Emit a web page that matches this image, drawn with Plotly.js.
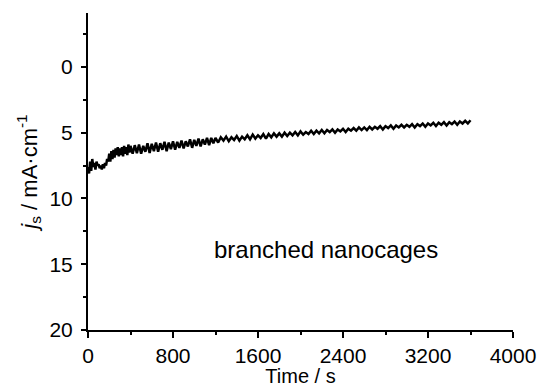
<!DOCTYPE html>
<html>
<head>
<meta charset="utf-8">
<script src="https://cdn.plot.ly/plotly-3.0.1.min.js"></script>
<style>html,body{margin:0;padding:0;background:#fff;}#chart{width:544px;height:387px;}</style>
</head>
<body>
<div id="chart"></div>
<script>
const timeS = [0,10,20,30,40,50,60,70,80,90,100,110,120,130,140,150,160,170,180,190,200,210,220,230,240,250,260,270,280,290,300,310,320,330,340,350,360,370,380,390,
400,420,440,460,480,500,520,540,560,580,600,620,640,660,680,700,720,740,760,780,800,820,840,860,880,900,920,940,960,980,1000,1020,1040,1060,1080,1100,1120,1140,1160,1180,
1200,1225,1250,1275,1300,1325,1350,1375,1400,1425,1450,1475,1500,1525,1550,1575,1600,1625,1650,1675,1700,1725,1750,1775,1800,1825,1850,1875,1900,1925,1950,1975,2000,2025,2050,2075,2100,2125,2150,2175,2200,2225,2250,2275,2300,2325,2350,2375,2400,2425,2450,2475,2500,2525,2550,2575,2600,2625,2650,2675,2700,2725,2750,2775,2800,2825,2850,2875,2900,2925,2950,2975,3000,3025,3050,3075,3100,3125,3150,3175,3200,3225,3250,3275,3300,3325,3350,3375,3400,3425,3450,3475,3500,3525,3550,3575,3600];
const currentJs = [7.6,8.1,7.2,7.9,7.0,7.6,7.3,7.8,7.2,7.5,7.4,7.7,7.5,7.8,7.4,7.7,7.3,7.5,7.0,7.2,
6.6,7.2,6.4,7.0,6.3,6.9,6.2,6.7,6.1,6.8,6.2,6.7,6.1,6.8,6.0,6.6,6.1,6.7,5.9,6.5,
6.0,6.6,5.95,6.55,5.9,6.6,6.0,6.45,5.8,6.55,5.85,6.4,5.75,6.45,5.8,6.3,5.7,6.4,5.75,6.25,5.65,6.3,5.7,6.15,5.6,6.2,5.65,6.05,5.5,6.15,5.55,6.0,5.45,6.05,5.5,5.9,5.4,5.95,5.4,5.8,
5.4,5.75,5.35,5.6,5.3,5.65,5.35,5.55,5.25,5.6,5.3,5.5,5.2,5.5,5.15,5.45,5.2,5.4,5.1,5.45,5.1,5.35,5.05,5.3,5.05,5.3,5.0,5.25,5.0,5.2,4.95,5.2,4.9,5.15,4.95,5.1,4.85,5.1,4.85,5.05,4.8,5.05,4.8,4.95,4.75,5.0,4.75,4.9,4.7,4.95,4.7,4.85,4.65,4.85,4.6,4.8,4.6,4.8,4.55,4.75,4.55,4.7,4.5,4.75,4.5,4.65,4.45,4.7,4.45,4.6,4.4,4.6,4.4,4.55,4.35,4.6,4.35,4.5,4.3,4.55,4.3,4.45,4.25,4.5,4.25,4.4,4.2,4.45,4.2,4.35,4.15,4.4,4.15,4.3,4.1,4.3,4.05];
const xTicks = [0,800,1600,2400,3200,4000];
const yTicks = [0,5,10,15,20];
const label = "branched nanocages";

const fam = "Liberation Sans, Arial, sans-serif";
const tickFont = {family: fam, color: "#000", size: 21};
const xTitleFont = {family: fam, color: "#000", size: 20};
const yTitleFont = {family: fam, color: "#000", size: 22};

Plotly.newPlot("chart", [{
  x: timeS, y: currentJs, type: "scatter", mode: "lines",
  line: {color: "#000", width: 2.5}, hoverinfo: "skip"
}], {
  width: 544, height: 387,
  margin: {l: 88, r: 31, t: 13, b: 57},
  paper_bgcolor: "#fff", plot_bgcolor: "#fff",
  showlegend: false,
  font: tickFont,
  xaxis: {
    range: [0, 4000], tickvals: xTicks, ticktext: xTicks.map(String),
    showline: true, linewidth: 2, linecolor: "#000",
    ticks: "outside", ticklen: 6, tickwidth: 2, tickcolor: "#000",
    minor: {dtick: 400, tick0: 0, ticks: "outside", ticklen: 3, tickwidth: 2, tickcolor: "#000"},
    showgrid: false, zeroline: false,
    tickfont: tickFont,
    title: {text: "Time / s", font: xTitleFont, standoff: 2}
  },
  yaxis: {
    range: [20, -4.1], tickvals: yTicks, ticktext: yTicks.map(String),
    showline: true, linewidth: 2, linecolor: "#000",
    ticks: "outside", ticklen: 5, tickwidth: 2, tickcolor: "#000",
    minor: {dtick: 2.5, tick0: 0, ticks: "outside", ticklen: 3, tickwidth: 2, tickcolor: "#000"},
    showgrid: false, zeroline: false,
    tickfont: tickFont, ticklabelstandoff: 4,
    title: {text: "<i>j</i><sub>s</sub> / mA·cm<sup>-1</sup>", font: yTitleFont, standoff: 6}
  },
  annotations: [{
    x: 2240, y: 13.9, xref: "x", yref: "y", text: label, showarrow: false,
    font: {family: fam, size: 24, color: "#000"}
  }]
}, {staticPlot: true, displayModeBar: false});
</script>
</body>
</html>
